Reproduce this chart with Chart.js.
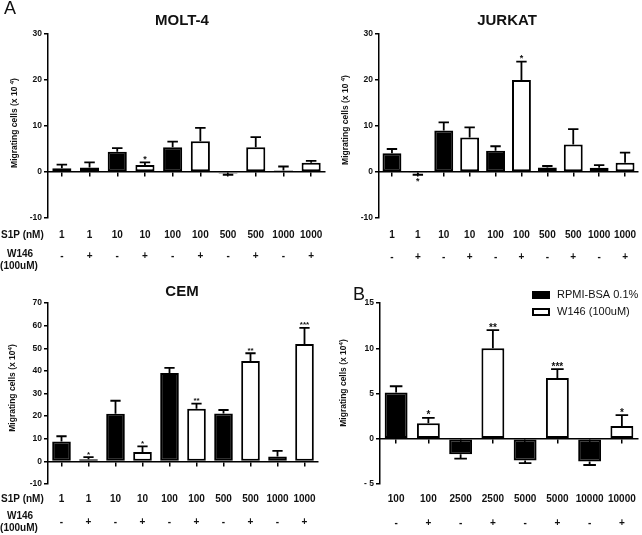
<!DOCTYPE html>
<html>
<head>
<meta charset="utf-8">
<script src="https://cdn.jsdelivr.net/npm/chart.js@4.4.0/dist/chart.umd.min.js"></script>
<style>
body{margin:0;background:#fff;width:642px;height:535px;position:relative;overflow:hidden}
canvas{position:absolute}
</style>
</head>
<body>
<canvas id="molt" width="330" height="275" style="left:0px;top:0px"></canvas>
<canvas id="jurkat" width="312" height="275" style="left:330px;top:0px"></canvas>
<canvas id="cem" width="330" height="260" style="left:0px;top:275px"></canvas>
<canvas id="bpanel" width="312" height="260" style="left:330px;top:275px"></canvas>
<script>
// panel A: S1P dose with / without W146
const s1pLabels = ['1','1','10','10','100','100','500','500','1000','1000'];
const w146Signs = ['-','+','-','+','-','+','-','+','-','+'];

const moltValues = [0.8, 1.0, 4.4, 1.5, 5.4, 6.7, -0.3, 5.4, 0.3, 2.0];
const moltErrors = [0.8, 1.1, 0.8, 0.6, 1.2, 2.9, 0.3, 2.2, 0.9, 0.4];
const moltStars  = ['', '', '', '*', '', '', '', '', '', ''];

const jurkatValues = [4.1, -0.2, 9.0, 7.5, 4.6, 20.0, 1.0, 6.0, 0.9, 2.0];
const jurkatErrors = [0.9, 0.4, 1.8, 2.2, 1.0, 4.0, 0.3, 3.3, 0.6, 2.2];
const jurkatStars  = ['', '*', '', '', '', '*', '', '', '', ''];

const cemValues = [8.8, 0.9, 21.1, 4.1, 39.1, 23.3, 21.2, 44.4, 2.2, 51.9];
const cemErrors = [2.3, 1.0, 5.7, 2.5, 2.2, 2.2, 1.5, 3.4, 2.4, 7.1];
const cemStars  = ['', '*', '', '*', '', '**', '', '**', '', '***'];

// panel B
const bLabels = ['100','100','2500','2500','5000','5000','10000','10000'];
const bSigns  = ['-','+','-','+','-','+','-','+'];
const bValues = [5.1, 1.7, -1.7, 10.0, -2.4, 6.7, -2.5, 1.4];
const bErrors = [0.7, 0.6, 0.5, 2.0, 0.3, 1.0, 0.4, 1.2];
const bStars  = ['', '*', '', '**', '', '***', '', '*'];
const legendLabels = ['RPMI-BSA 0.1%', 'W146 (100uM)'];

const FONT = '"Liberation Sans", Arial, sans-serif';
const INK = '#111';

function drawYTitle(ctx, x, y, main, sup, tail) {
  ctx.save();
  ctx.translate(x, y);
  ctx.rotate(-Math.PI / 2);
  ctx.fillStyle = INK;
  ctx.textBaseline = 'middle';
  ctx.textAlign = 'left';
  let big = 'bold 8.5px ' + FONT, small = 'bold 6px ' + FONT;
  ctx.font = big;
  let w1 = ctx.measureText(main).width, w3 = ctx.measureText(tail).width;
  ctx.font = small;
  let w2 = ctx.measureText(sup).width;
  let sx = -(w1 + w2 + w3) / 2;
  ctx.font = big;
  ctx.fillText(main, sx, 0);
  ctx.font = small;
  ctx.fillText(sup, sx + w1, -3);
  ctx.font = big;
  ctx.fillText(tail, sx + w1 + w2, 0);
  ctx.restore();
}

function extras(p) {
  return {
    id: 'extras',
    afterDatasetsDraw(chart) {
      const ctx = chart.ctx;
      const ys = chart.scales.y, xs = chart.scales.x;
      const bars = chart.getDatasetMeta(0).data;
      ctx.save();
      // error bars
      ctx.strokeStyle = '#000';
      ctx.lineWidth = 1.8;
      bars.forEach((b, i) => {
        const v = p.values[i], e = p.errors[i];
        const end = ys.getPixelForValue(v >= 0 ? v + e : v - e);
        const cap = b.width * 0.55;
        ctx.beginPath();
        ctx.moveTo(b.x, b.y);
        ctx.lineTo(b.x, end);
        ctx.moveTo(b.x - cap / 2, end);
        ctx.lineTo(b.x + cap / 2, end);
        ctx.stroke();
        if (p.stars[i]) {
          ctx.fillStyle = INK;
          ctx.font = p.starFont + FONT;
          ctx.textAlign = 'center';
          ctx.textBaseline = 'alphabetic';
          const m = ctx.measureText(p.stars[i]);
          if (v >= 0) ctx.fillText(p.stars[i], b.x, end - 2.5 - m.actualBoundingBoxDescent);
          else ctx.fillText(p.stars[i], b.x, end + 3 + m.actualBoundingBoxAscent);
        }
      });
      // category rows
      ctx.fillStyle = INK;
      ctx.textAlign = 'center';
      ctx.textBaseline = 'middle';
      ctx.font = 'bold 10px ' + FONT;
      p.labels.forEach((t, i) => ctx.fillText(t, xs.getPixelForValue(i), p.row1));
      p.signs.forEach((t, i) => ctx.fillText(t, xs.getPixelForValue(i), p.row2));
      if (p.headers) {
        ctx.textAlign = 'left';
        ctx.fillText('S1P (nM)', 1, p.row1);
        ctx.textAlign = 'center';
        ctx.fillText('W146', 20, p.hdr1);
        ctx.fillText('(100uM)', 19, p.hdr2);
      }
      if (p.title) {
        ctx.font = 'bold 15px ' + FONT;
        ctx.fillText(p.title, p.titleX, p.titleY);
      }
      if (p.letter) {
        ctx.font = '18px ' + FONT;
        ctx.textAlign = 'left';
        ctx.textBaseline = 'alphabetic';
        ctx.fillText(p.letter, p.letterX, p.letterY);
      }
      if (p.legend) {
        ctx.font = '11px ' + FONT;
        ctx.textAlign = 'left';
        ctx.textBaseline = 'middle';
        const lx = 202, ly = [20, 37];
        ctx.fillStyle = '#000';
        ctx.fillRect(lx, ly[0] - 4, 18, 8);
        ctx.lineWidth = 2;
        ctx.strokeRect(lx + 1, ly[1] - 3, 16, 6);
        ctx.fillStyle = INK;
        ctx.fillText(legendLabels[0], 227, ly[0]);
        ctx.fillText(legendLabels[1], 227, ly[1]);
      }
      drawYTitle(ctx, p.yTitleX, p.yTitleY, p.yTitle[0], '4', ')');
      ctx.restore();
    }
  };
}

function makePanel(id, p) {
  new Chart(document.getElementById(id), {
    type: 'bar',
    data: {
      labels: p.labels.map((l, i) => l + p.signs[i]),
      datasets: [{
        data: p.values,
        backgroundColor: p.signs.map(s => s === '+' ? '#fff' : '#000'),
        borderColor: '#000',
        borderWidth: 2,
        borderSkipped: false,
        barPercentage: p.barPct,
        categoryPercentage: 1
      }]
    },
    options: {
      responsive: false,
      animation: false,
      layout: { padding: p.pad },
      plugins: { legend: { display: false }, tooltip: { enabled: false } },
      scales: {
        x: {
          position: { y: 0 },
          grid: { display: true, drawOnChartArea: false, drawTicks: true, tickLength: 4, offset: false, color: '#000', lineWidth: 1.5 },
          border: { display: true, color: '#000', width: 1.5 },
          ticks: { display: false },
          afterFit: s => { s.height = 0; }
        },
        y: {
          min: p.yMin, max: p.yMax,
          ticks: {
            stepSize: p.step, color: INK, padding: 2,
            font: { family: FONT, size: 8.5, weight: 'bold' },
            callback: p.tickFmt || (v => v)
          },
          grid: { display: true, drawOnChartArea: false, drawTicks: true, tickLength: 4, color: '#000', lineWidth: 1.5 },
          border: { display: true, color: '#000', width: 1.5 },
          afterFit: s => { s.width = 30; }
        }
      }
    },
    plugins: [extras(p)]
  });
}

makePanel('molt', {
  labels: s1pLabels, signs: w146Signs, values: moltValues, errors: moltErrors, stars: moltStars,
  yMin: -10, yMax: 30, step: 10, barPct: 0.69,
  pad: { left: 18, top: 34, right: 5, bottom: 57 },
  row1: 235, row2: 256, headers: true, hdr1: 254, hdr2: 266,
  title: 'MOLT-4', titleX: 182, titleY: 21,
  letter: 'A', letterX: 4, letterY: 14,
  yTitle: ['Migrating cells (x 10 '], yTitleX: 15, yTitleY: 123,
  starFont: 'bold 9px ', starSize: 9
});

makePanel('jurkat', {
  labels: s1pLabels, signs: w146Signs, values: jurkatValues, errors: jurkatErrors, stars: jurkatStars,
  yMin: -10, yMax: 30, step: 10, barPct: 0.73,
  pad: { left: 19, top: 34, right: 4, bottom: 57 },
  row1: 235, row2: 257, headers: false,
  title: 'JURKAT', titleX: 177, titleY: 21,
  yTitle: ['Migrating cells (x 10 '], yTitleX: 16, yTitleY: 120,
  starFont: 'bold 9px ', starSize: 9
});

makePanel('cem', {
  labels: s1pLabels, signs: w146Signs, values: cemValues, errors: cemErrors, stars: cemStars,
  yMin: -10, yMax: 70, step: 10, barPct: 0.69,
  pad: { left: 18, top: 28, right: 12, bottom: 51 },
  row1: 224, row2: 247, headers: true, hdr1: 241, hdr2: 253,
  title: 'CEM', titleX: 182, titleY: 17,
  yTitle: ['Migrating cells (x 10'], yTitleX: 13, yTitleY: 113,
  starFont: 'bold 8px ', starSize: 8
});

makePanel('bpanel', {
  labels: bLabels, signs: bSigns, values: bValues, errors: bErrors, stars: bStars,
  yMin: -5, yMax: 15, step: 5, barPct: 0.71,
  pad: { left: 20, top: 28, right: 4, bottom: 51 },
  row1: 224, row2: 248, headers: false,
  letter: 'B', letterX: 23, letterY: 25,
  legend: true,
  yTitle: ['Migrating cells (x 10'], yTitleX: 14, yTitleY: 108,
  starFont: 'bold 10px ', starSize: 10,
  tickFmt: v => v < 0 ? '- ' + (-v) : v
});
</script>
</body>
</html>
